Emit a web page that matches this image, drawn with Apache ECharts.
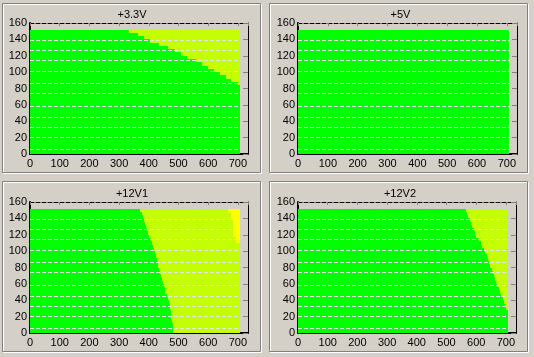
<!DOCTYPE html>
<html>
<head>
<meta charset="utf-8">
<script src="https://cdn.jsdelivr.net/npm/echarts@6/dist/echarts.min.js"></script>
<style>
html,body{margin:0;padding:0;background:#d4d0c8;}
#c{width:534px;height:357px;}
</style>
</head>
<body>
<div id="c"></div>
<script>
// ---- data ----
const titles = ['+3.3V', '+5V', '+12V1', '+12V2'];
const xTicks = [0, 100, 200, 300, 400, 500, 600, 700];
const yTicks = [0, 20, 40, 60, 80, 100, 120, 140, 160];
const dataEndX = 708;
// horizontal bands (load rows) edges, shared by all panels
const bandEdges = [0,4,8,12,16,20,24,28,32,36,40,44,48,52,56,60,64,68,72,76,80,84,88,92,96,100,104,108,112,116,120,124,128,132,136,140,144,148,151];
// boundary between green and yellow zone for each band (bottom to top)
const boundary33 = [708,708,708,708,708,708,708,708,708,708,708,708,708,708,708,708,708,708,708,708,708,
  700,676,661,640,620,600,580,560,530,508,488,465,435,405,385,365,335];
const boundary5 = [708,708,708,708,708,708,708,708,708,708,708,708,708,708,708,708,708,708,708,
  708,708,708,708,708,708,708,708,708,708,708,708,708,708,708,708,708,708,708];
const boundary12a = [482,481,480,478,476,475,474,472,471,468,465,460,456,454,451,448,445,441,437,435,432,
  430,427,424,421,419,414,410,406,402,398,393,391,388,385,381,376,371];
const boundary12b = [708,708,708,708,708,708,708,702,697,693,689,685,681,676,671,668,664,660,656,652,648,
  644,640,635,629,625,621,615,608,601,596,591,587,583,579,573,568,564];
// bright yellow patch in +12V1 (y from, y to, x start)
const patchY0 = [110, 117, 138, 146];
const patchY1 = [117, 138, 146, 151];
const patchX0 = [695, 684, 678, 666];
// light dashed gap rows
const gapRows = [6, 21, 33, 45, 58, 74, 86.5, 101.5, 114.5, 126.5, 138.5];

// ---- build ----
const boundaries = [boundary33, boundary5, boundary12a, boundary12b];
const colors = ['#00ff00', '#c4ff00', '#ffff00'];
const grids = [
  {left: 30, top: 23, width: 218, height: 131},
  {left: 298, top: 23, width: 219, height: 131},
  {left: 30, top: 202, width: 218, height: 131},
  {left: 298, top: 202, width: 218, height: 131}
];
const font = 'Liberation Sans, Arial, sans-serif';

function renderRect(params, api) {
  const p0 = api.coord([api.value(0), api.value(3)]);
  const p1 = api.coord([api.value(1), api.value(2)]);
  const x0 = Math.round(p0[0]), y0 = Math.round(p0[1]);
  const x1 = Math.round(p1[0]), y1 = Math.round(p1[1]);
  return {type: 'rect', shape: {x: x0, y: y0, width: x1 - x0, height: y1 - y0},
    style: {fill: colors[api.value(4)]}};
}

const xAxis = [], yAxis = [], series = [], title = [];
grids.forEach((g, i) => {
  xAxis.push({gridIndex: i, type: 'value', min: 0, max: 734, interval: 100, position: 'bottom',
    axisLine: {show: true, onZero: false, lineStyle: {color: '#000', width: 2}},
    axisTick: {show: false},
    axisLabel: {color: '#000', fontSize: 11, fontFamily: font, margin: 4, showMaxLabel: false,
      formatter: v => xTicks.indexOf(v) >= 0 ? String(v) : ''},
    splitLine: {show: false}});
  xAxis.push({gridIndex: i, type: 'value', min: 0, max: 734, interval: 100, position: 'top',
    axisLine: {show: true, onZero: false, lineStyle: {color: '#000', width: 1, type: [4, 2]}},
    axisTick: {show: true, inside: true, length: 3, lineStyle: {color: '#808080'}},
    axisLabel: {show: false}, splitLine: {show: false}});
  yAxis.push({gridIndex: i, type: 'value', min: 0, max: 160, interval: 20, position: 'left',
    axisLine: {show: true, onZero: false, lineStyle: {color: '#000', width: 2}},
    axisTick: {show: false},
    axisLabel: {color: '#000', fontSize: 11, fontFamily: font, margin: 3,
      formatter: v => yTicks.indexOf(v) >= 0 ? String(v) : ''},
    splitLine: {show: false}});
  yAxis.push({gridIndex: i, type: 'value', min: 0, max: 160, interval: 20, position: 'right',
    axisLine: {show: true, onZero: false, lineStyle: {color: '#000', width: 1}},
    axisTick: {show: true, inside: true, length: 5, lineStyle: {color: '#808080'}},
    axisLabel: {show: false}, splitLine: {show: false}});

  const b = boundaries[i];
  const rects = [];
  for (let k = 0; k < b.length; k++) {
    const y0 = bandEdges[k], y1 = bandEdges[k + 1];
    rects.push([0, b[k], y0, y1, 0]);
    if (b[k] < dataEndX) rects.push([b[k], dataEndX, y0, y1, 1]);
  }
  if (i === 2) {
    for (let k = 0; k < patchY0.length; k++) rects.push([patchX0[k], dataEndX, patchY0[k], patchY1[k], 2]);
  }
  series.push({type: 'custom', xAxisIndex: i * 2, yAxisIndex: i * 2, renderItem: renderRect,
    encode: {x: [0, 1], y: [2, 3]}, data: rects, animation: false, silent: true,
    markLine: {silent: true, symbol: ['none', 'none'], animation: false, label: {show: false},
      lineStyle: {color: '#e4e4e4', width: 1, type: [4, 2]},
      data: gapRows.map(y => [{coord: [0, y]}, {coord: [dataEndX, y]}])}});

  title.push({text: titles[i], left: g.left + g.width / 2 - 12, top: g.top - 19, textAlign: 'center',
    textStyle: {fontSize: 11, fontWeight: 'normal', color: '#000', fontFamily: font}});
});

const frames = [[2, 3, 258, 169], [269, 3, 258, 169], [2, 181, 258, 170], [269, 181, 258, 170]];
const graphic = [];
frames.forEach(f => {
  graphic.push({type: 'rect', silent: true, z: -1, shape: {x: f[0] + 1.5, y: f[1] + 1.5, width: f[2], height: f[3]},
    style: {fill: 'none', stroke: '#ffffff', lineWidth: 1}});
  graphic.push({type: 'rect', silent: true, z: -1, shape: {x: f[0] + 0.5, y: f[1] + 0.5, width: f[2], height: f[3]},
    style: {fill: 'none', stroke: '#808080', lineWidth: 1}});
});

const chart = echarts.init(document.getElementById('c'), null, {renderer: 'canvas'});
chart.setOption({
  backgroundColor: '#d4d0c8',
  animation: false,
  title: title,
  grid: grids,
  xAxis: xAxis,
  yAxis: yAxis,
  series: series,
  graphic: graphic
});
</script>
</body>
</html>
